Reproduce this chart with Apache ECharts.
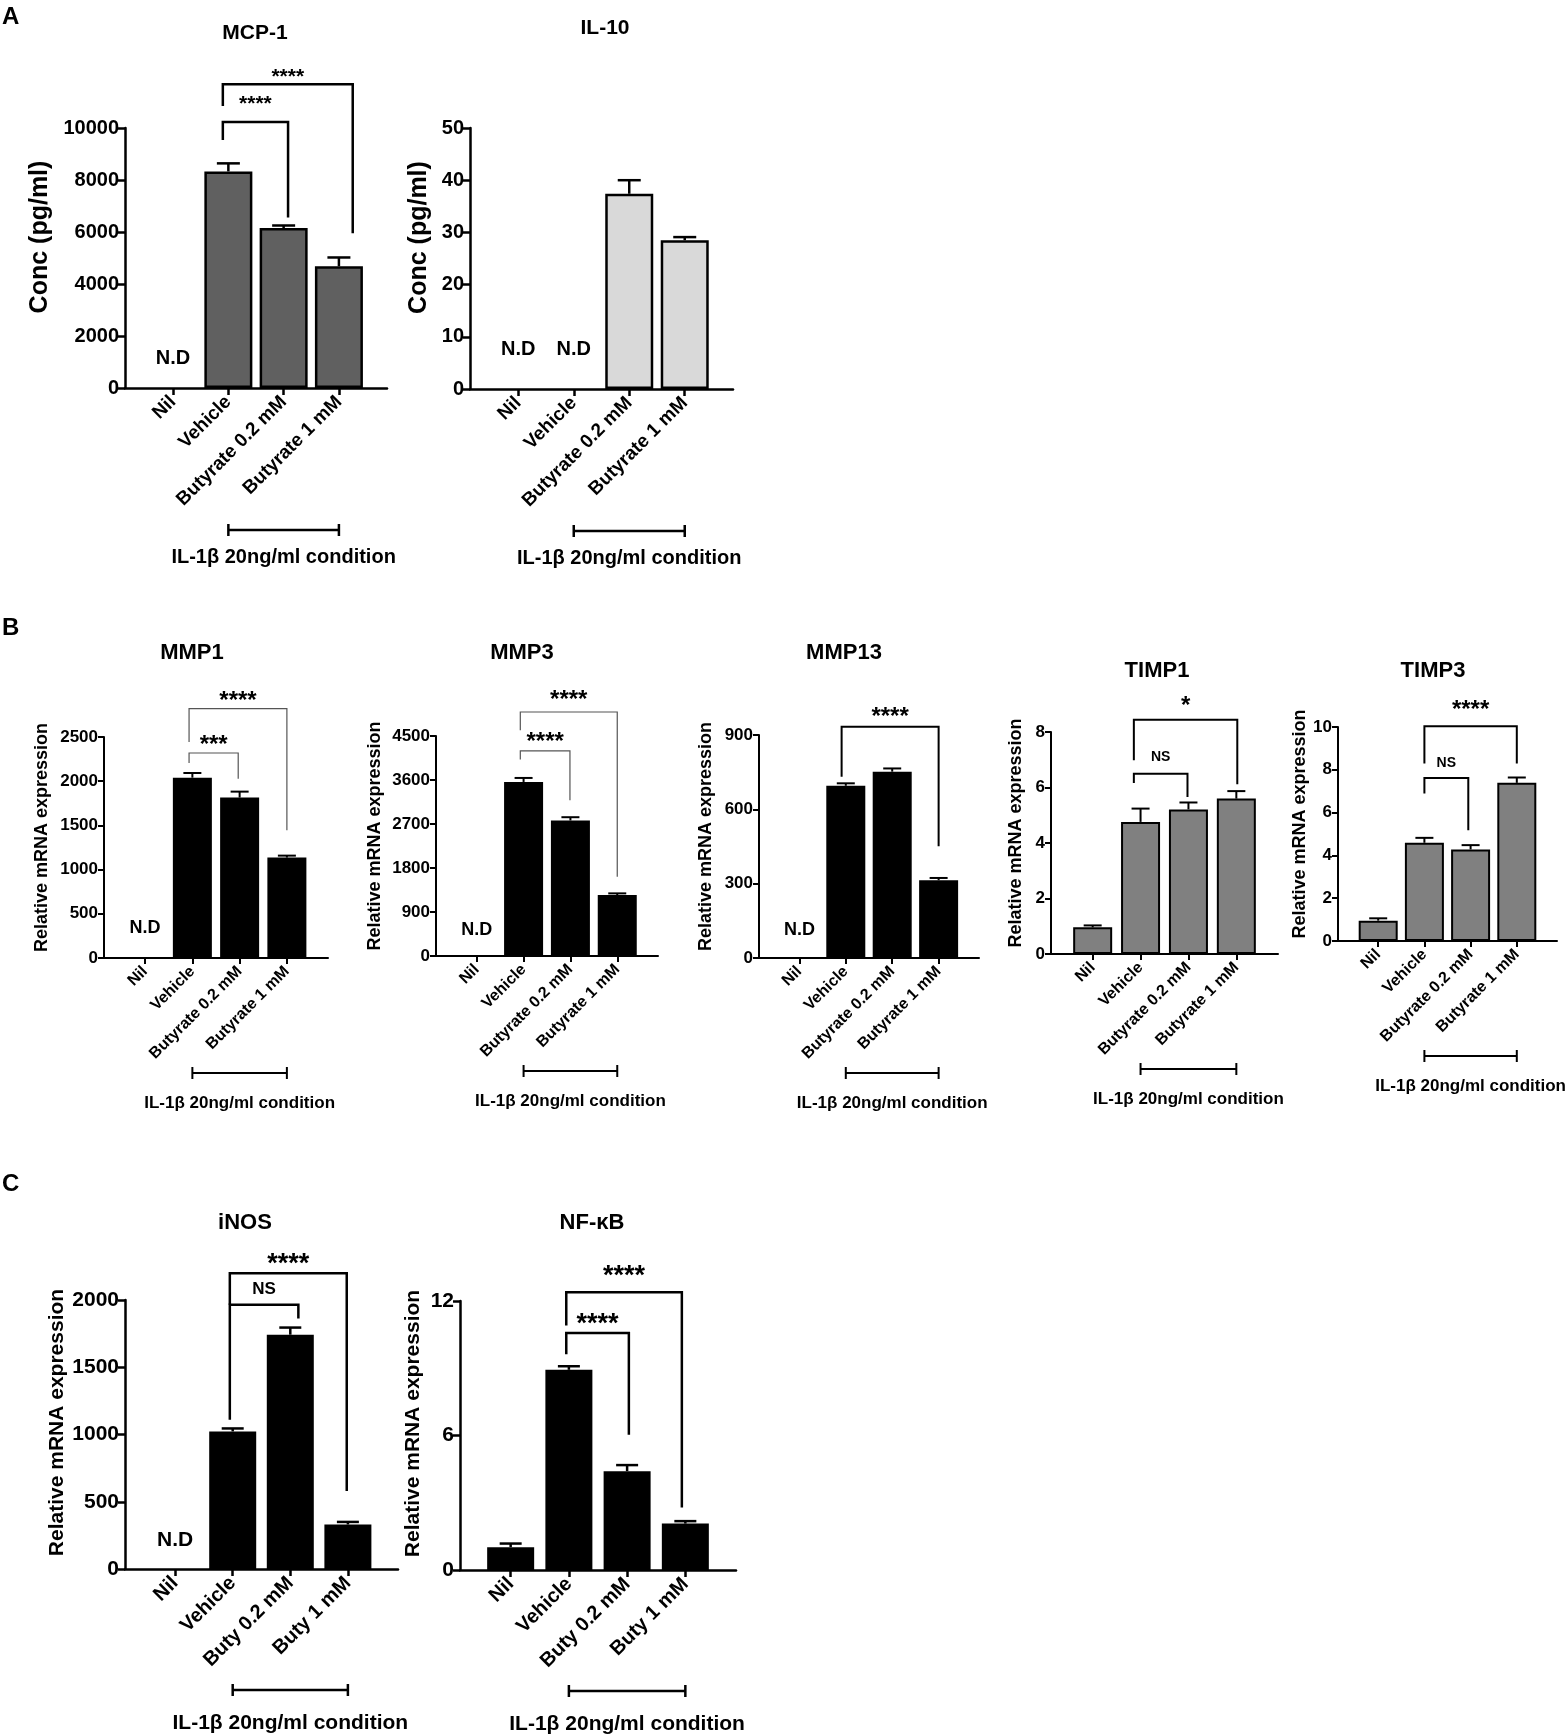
<!DOCTYPE html>
<html>
<head>
<meta charset="utf-8">
<script src="https://cdn.jsdelivr.net/npm/echarts@6/dist/echarts.min.js"></script>
<style>
  html, body { margin: 0; padding: 0; background: #fff; }
  #main { width: 1565px; height: 1736px; }
</style>
</head>
<body>
<div id="main"></div>
<script>
var FONT = '"Liberation Sans", Arial, Helvetica, sans-serif';

// x categories
var groupsLong = ['Nil', 'Vehicle', 'Butyrate 0.2 mM', 'Butyrate 1 mM'];
var groupsShort = ['Nil', 'Vehicle', 'Buty 0.2 mM', 'Buty 1 mM'];
var conditionLabel = 'IL-1\u03b2 20ng/ml condition';

// A - protein (pg/ml); null = not detected
var mcp1Mean = [null, 8330, 6150, 4680];
var mcp1Sem  = [0, 310, 100, 340];
var il10Mean = [null, null, 37.4, 28.5];
var il10Sem  = [0, 0, 2.6, 0.6];

// B - relative mRNA
var mmp1Mean  = [null, 2040, 1815, 1136];
var mmp1Sem   = [0, 53, 67, 22];
var mmp3Mean  = [null, 3560, 2772, 1246];
var mmp3Sem   = [0, 82, 67, 35];
var mmp13Mean = [null, 695, 752, 314];
var mmp13Sem  = [0, 10, 13, 9];
var timp1Mean = [0.96, 4.76, 5.21, 5.60];
var timp1Sem  = [0.07, 0.48, 0.25, 0.27];
var timp3Mean = [0.95, 4.59, 4.28, 7.39];
var timp3Sem  = [0.11, 0.23, 0.20, 0.25];

// C - relative mRNA
var inosMean = [null, 1023, 1742, 331];
var inosSem  = [0, 22, 53, 19];
var nfkbMean = [1.02, 8.93, 4.41, 2.07];
var nfkbSem  = [0.16, 0.16, 0.27, 0.11];

// y axis ticks [max, step]
var mcp1Ticks = [10000, 2000];
var il10Ticks = [50, 10];
var mmp1Ticks = [2500, 500];
var mmp3Ticks = [4500, 900];
var mmp13Ticks = [900, 300];
var timp1Ticks = [8, 2];
var timp3Ticks = [10, 2];
var inosTicks = [2000, 500];
var nfkbTicks = [12, 6];

// significance brackets: [from, to, left foot, top, right foot, label level, label]
var mcp1Sig  = [[0.9, 2.08, 9540, 10230, 6560, 11100, '****'], [0.9, 3.25, 10850, 11680, 5950, 12140, '****']];
var mmp1Sig  = [[0.93, 1.97, 2206, 2319, 2029, 2470, '***'], [0.93, 3.0, 2443, 2821, 1444, 2960, '****']];
var mmp3Sig  = [[0.93, 1.99, 4019, 4194, 3187, 4480, '****'], [0.93, 3.0, 4617, 4991, 1620, 5332, '****']];
var mmp13Sig = [[0.91, 3.0, 731, 933, 451, 994, '****']];
var timp1Sig = [[0.86, 1.98, 6.16, 6.50, 5.66, 7.10, 'NS'], [0.86, 3.02, 6.98, 8.44, 6.12, 9.13, '*']];
var timp3Sig = [[1.0, 1.95, 6.89, 7.62, 5.18, 8.29, 'NS'], [1.0, 3.0, 8.29, 10.03, 8.29, 11.01, '****']];
var inosSig  = [[0.95, 2.14, 1109, 1964, 1863, 2078, 'NS'], [0.95, 2.98, 1964, 2199, 579, 2306, '****']];
var nfkbSig  = [[0.955, 2.03, 9.62, 10.57, 6.03, 11.21, '****'], [0.955, 2.94, 10.91, 12.39, 2.79, 13.36, '****']];

// N.D marks [category, level]
var mcp1ND  = [[0, 1150]];
var il10ND  = [[0, 7.5], [1, 7.5]];
var mmp1ND  = [[0, 336]];
var mmp3ND  = [[0, 531]];
var mmp13ND = [[0, 112]];
var inosND  = [[0, 216]];

// look per figure part
var styleA = {axisW: 2.5, tickLen: 7, tickFs: 20, nameFs: 25, namePad: 42, catFs: 19, barW: 48, barBorder: 2.5, capW: 23, errW: 2.5,
  sigW: 2.5, sigColor: '#000', sigFs: 21, nsFs: 15, ndFs: 20, condFs: 20, condOff: 142, condTextOff: 169, titleFs: 21};
var styleB = {axisW: 2, tickLen: 6, tickFs: 17, nameFs: 18, namePad: 20, catFs: 16, barW: 39, barBorder: 2, capW: 18, errW: 2,
  sigW: 2, sigColor: '#000', sigFs: 24, nsFs: 14, ndFs: 18, condFs: 17, condOff: 115, condTextOff: 145, titleFs: 22};
var styleC = {axisW: 2.5, tickLen: 7, tickFs: 21, nameFs: 21, namePad: 24, catFs: 20, barW: 47, barBorder: 0, capW: 22, errW: 2.5,
  sigW: 2.5, sigColor: '#000', sigFs: 27, nsFs: 17, ndFs: 21, condFs: 21, condOff: 121, condTextOff: 154, titleFs: 22};
var styleBthin = Object.assign({}, styleB, {sigW: 1.2, sigColor: '#555'});

var panels = [
  {title: 'MCP-1', tpos: [255, 33], grid: [125, 128, 262, 260], ticks: mcp1Ticks, yName: 'Conc (pg/ml)', nameGap: 72,
   mean: mcp1Mean, sem: mcp1Sem, sig: mcp1Sig, nd: mcp1ND, cats: groupsLong, fill: '#606060', s: styleA},
  {title: 'IL-10', tpos: [605, 28], grid: [470, 128, 263, 261], ticks: il10Ticks, yName: 'Conc (pg/ml)', nameGap: 38,
   mean: il10Mean, sem: il10Sem, sig: [], nd: il10ND, cats: groupsLong, fill: '#d9d9d9', s: styleA},
  {title: 'MMP1', tpos: [192, 653], grid: [104, 737, 224, 221], ticks: mmp1Ticks, yName: 'Relative mRNA expression', nameGap: 53,
   mean: mmp1Mean, sem: mmp1Sem, sig: mmp1Sig, nd: mmp1ND, cats: groupsLong, fill: '#000', s: styleBthin},
  {title: 'MMP3', tpos: [522, 653], grid: [436, 736, 222, 220], ticks: mmp3Ticks, yName: 'Relative mRNA expression', nameGap: 52,
   mean: mmp3Mean, sem: mmp3Sem, sig: mmp3Sig, nd: mmp3ND, cats: groupsLong, fill: '#000', s: styleBthin},
  {title: 'MMP13', tpos: [844, 653], grid: [759, 735, 220, 223], ticks: mmp13Ticks, yName: 'Relative mRNA expression', nameGap: 44,
   mean: mmp13Mean, sem: mmp13Sem, sig: mmp13Sig, nd: mmp13ND, cats: groupsLong, fill: '#000', s: styleB},
  {title: 'TIMP1', tpos: [1157, 671], grid: [1051, 732, 227, 222], ticks: timp1Ticks, yName: 'Relative mRNA expression', nameGap: 26,
   mean: timp1Mean, sem: timp1Sem, sig: timp1Sig, nd: [], cats: groupsLong, fill: '#808080', s: styleB},
  {title: 'TIMP3', tpos: [1433, 671], grid: [1338, 727, 219, 214], ticks: timp3Ticks, yName: 'Relative mRNA expression', nameGap: 29,
   mean: timp3Mean, sem: timp3Sem, sig: timp3Sig, nd: [], cats: groupsLong, fill: '#808080', s: styleB},
  {title: 'iNOS', tpos: [245, 1223], grid: [125, 1300, 273, 269], ticks: inosTicks, yName: 'Relative mRNA expression', nameGap: 57,
   mean: inosMean, sem: inosSem, sig: inosSig, nd: inosND, cats: groupsShort, fill: '#000', s: styleC},
  {title: 'NF-\u03baB', tpos: [592, 1223], grid: [460, 1301, 276, 269], ticks: nfkbTicks, yName: 'Relative mRNA expression', nameGap: 36,
   mean: nfkbMean, sem: nfkbSem, sig: nfkbSig, nd: [], cats: groupsShort, fill: '#000', s: styleC}
];

var grids = [], xAxes = [], yAxes = [], series = [], graphics = [];

function txt(x, y, text, fs, align) {
  return {type: 'text', x: x, y: y, silent: true,
    style: {text: text, fill: '#000', font: 'bold ' + fs + 'px ' + FONT, align: align || 'center', verticalAlign: 'middle'}};
}

panels.forEach(function (p, k) {
  var s = p.s;
  var axisStyle = {color: '#000', width: s.axisW};
  grids.push({left: p.grid[0], top: p.grid[1], width: p.grid[2], height: p.grid[3]});

  xAxes.push({
    gridIndex: k, type: 'value', min: -0.87, max: 3.87,
    splitLine: {show: false},
    axisLine: {show: true, lineStyle: axisStyle},
    axisTick: {show: true, customValues: [0, 1, 2, 3], length: s.tickLen, lineStyle: axisStyle},
    axisLabel: {
      customValues: [0, 1, 2, 3], rotate: 45, margin: 11, color: '#000',
      fontSize: s.catFs, fontWeight: 'bold', fontFamily: FONT,
      formatter: function (v) { return p.cats[Math.round(v)] || ''; }
    }
  });

  yAxes.push({
    gridIndex: k, type: 'value', min: 0, max: p.ticks[0], interval: p.ticks[1],
    name: p.yName, nameLocation: 'middle', nameGap: p.nameGap,
    nameTextStyle: {color: '#000', fontSize: s.nameFs, fontWeight: 'bold', fontFamily: FONT, padding: [0, 0, 0, s.namePad]},
    splitLine: {show: false},
    axisLine: {show: true, onZero: false, lineStyle: axisStyle},
    axisTick: {show: true, length: s.tickLen, lineStyle: axisStyle},
    axisLabel: {color: '#000', fontSize: s.tickFs, fontWeight: 'bold', fontFamily: FONT, margin: 6,
      formatter: function (v) { return String(v); }}
  });

  // bars
  var barData = [];
  p.mean.forEach(function (v, i) { if (v != null) barData.push([i, v]); });
  series.push({
    type: 'bar', xAxisIndex: k, yAxisIndex: k, barWidth: s.barW, data: barData, silent: true,
    itemStyle: {color: p.fill, borderColor: '#000', borderWidth: s.barBorder}
  });

  // error bars (upper only)
  var errData = [];
  p.mean.forEach(function (v, i) { if (v != null) errData.push([i, v, p.sem[i]]); });
  series.push({
    type: 'custom', xAxisIndex: k, yAxisIndex: k, clip: false, silent: true, z: 3, data: errData,
    renderItem: function (params, api) {
      var x = api.value(0), m = api.value(1), e = api.value(2);
      var a = api.coord([x, m]), b = api.coord([x, m + e]);
      var st = {stroke: '#000', lineWidth: s.errW};
      return {type: 'group', children: [
        {type: 'line', shape: {x1: a[0], y1: a[1], x2: b[0], y2: b[1]}, style: st},
        {type: 'line', shape: {x1: b[0] - s.capW / 2, y1: b[1], x2: b[0] + s.capW / 2, y2: b[1]}, style: st}
      ]};
    }
  });

  // significance brackets
  if (p.sig.length) {
    series.push({
      type: 'custom', xAxisIndex: k, yAxisIndex: k, clip: false, silent: true, z: 4,
      data: p.sig.map(function (r) { return [r[0], r[3]]; }),
      renderItem: function (params, api) {
        var r = p.sig[params.dataIndex];
        var pts = [api.coord([r[0], r[2]]), api.coord([r[0], r[3]]), api.coord([r[1], r[3]]), api.coord([r[1], r[4]])];
        var lab = api.coord([(r[0] + r[1]) / 2, r[5]]);
        var star = r[6].indexOf('*') >= 0;
        var fs = star ? s.sigFs : s.nsFs;
        return {type: 'group', children: [
          {type: 'polyline', shape: {points: pts}, style: {stroke: s.sigColor, lineWidth: s.sigW, fill: null}},
          txt(lab[0], lab[1] + (star ? fs * 0.22 : 0), r[6], fs)
        ]};
      }
    });
  }

  // N.D marks
  if (p.nd.length) {
    series.push({
      type: 'custom', xAxisIndex: k, yAxisIndex: k, clip: false, silent: true, z: 4, data: p.nd,
      renderItem: function (params, api) {
        var c = api.coord([api.value(0), api.value(1)]);
        return txt(c[0], c[1], 'N.D', s.ndFs);
      }
    });
  }

  // IL-1b treatment bracket under the labels
  series.push({
    type: 'custom', xAxisIndex: k, yAxisIndex: k, clip: false, silent: true, z: 4, data: [[1, 0]],
    renderItem: function (params, api) {
      var a = api.coord([1, 0]), b = api.coord([3, 0]);
      var y = a[1] + s.condOff;
      var st = {stroke: '#000', lineWidth: s.axisW};
      return {type: 'group', children: [
        {type: 'line', shape: {x1: a[0], y1: y, x2: b[0], y2: y}, style: st},
        {type: 'line', shape: {x1: a[0], y1: y - 6, x2: a[0], y2: y + 6}, style: st},
        {type: 'line', shape: {x1: b[0], y1: y - 6, x2: b[0], y2: y + 6}, style: st},
        txt((a[0] + b[0]) / 2, a[1] + s.condTextOff, conditionLabel, s.condFs)
      ]};
    }
  });

  graphics.push(txt(p.tpos[0], p.tpos[1], p.title, s.titleFs));
});

graphics.push(txt(2, 17, 'A', 24, 'left'));
graphics.push(txt(2, 628, 'B', 24, 'left'));
graphics.push(txt(2, 1184, 'C', 24, 'left'));

var chart = echarts.init(document.getElementById('main'));
chart.setOption({
  animation: false,
  backgroundColor: '#fff',
  grid: grids,
  xAxis: xAxes,
  yAxis: yAxes,
  series: series,
  graphic: graphics
});
</script>
</body>
</html>
